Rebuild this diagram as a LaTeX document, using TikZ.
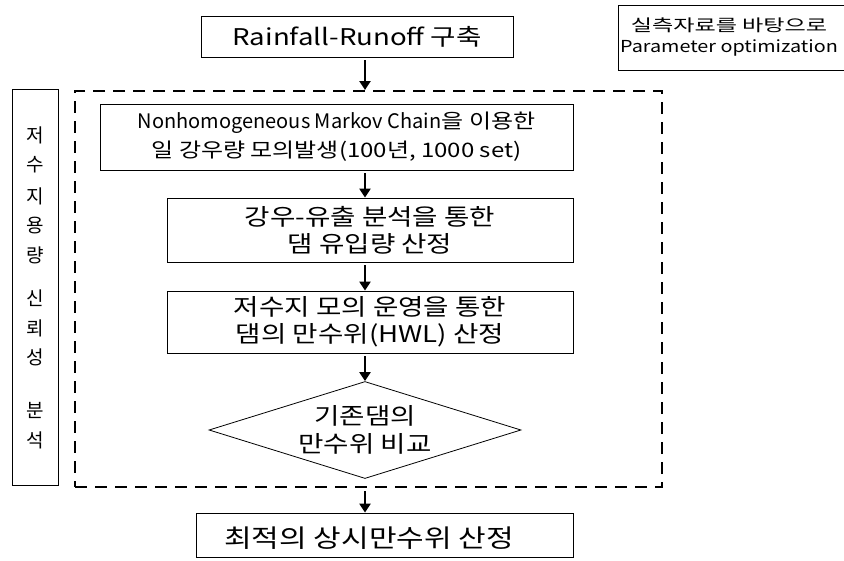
\documentclass[tikz,border=0pt]{standalone}
\usepackage{fontspec}
\setmainfont{Noto Sans CJK KR}
\newfontfamily\breit{Noto Sans CJK KR}[FakeStretch=1.2]
\newfontfamily\breiter{Noto Sans CJK KR}[FakeStretch=1.4]
\usetikzlibrary{arrows.meta,shapes.geometric}

\tikzset{
  kasten/.style={draw, line width=0.8pt, inner sep=0pt, align=center},
  raute/.style={draw, diamond, aspect=3.2, line width=0.8pt, inner sep=0pt, align=center},
  pfeil/.style={-{Triangle[length=9pt,width=11pt]}, line width=2.4pt, shorten <=3pt},
  rahmen/.style={draw, dash pattern=on 12pt off 8pt, line width=2pt}
}

\begin{document}
\begin{tikzpicture}[x=1pt,y=-1pt]
\useasboundingbox (0,0) rectangle (844,560);

%Kasten
\node[kasten, minimum width=312pt, minimum height=41pt, font=\breit\fontsize{23}{28}\selectfont] (oben) at (357,36.5) {Rainfall-Runoff 구축};
\node[kasten, minimum width=473pt, minimum height=66pt, font=\fontsize{20}{29}\selectfont] (markov) at (336.5,137) {Nonhomogeneous Markov Chain{\breit 을 이용한}\\{\breit 일 강우량 모의발생(100년, 1000 set)}};
\node[kasten, minimum width=406pt, minimum height=64pt, font=\breit\fontsize{23}{27}\selectfont] (abfluss) at (370,230) {강우-유출 분석을 통한\\댐 유입량 산정};
\node[kasten, minimum width=406pt, minimum height=62pt, font=\breit\fontsize{23}{27}\selectfont] (hwl) at (370,322) {저수지 모의 운영을 통한\\댐의 만수위(HWL) 산정};
\node[raute, minimum width=312pt, minimum height=97pt, font=\breit\fontsize{23}{28}\selectfont] (vergleich) at (365,430) {기존댐의\\만수위 비교};
\node[kasten, minimum width=377pt, minimum height=44pt] (ergebnis) at (384.5,535) {};

%Rahmen
\node[rahmen, minimum width=587pt, minimum height=396pt] (rahmen) at (368.5,289) {};
\node[kasten, minimum width=46pt, minimum height=396pt] (links) at (35,287) {};
\node[kasten, minimum width=250pt, minimum height=65pt, anchor=north west] (hinweis) at (618,5) {};

%Beschriftung
\node[font=\breit\fontsize{25}{30}\selectfont] (ergebnistext) at (369,538) {최적의 상시만수위 산정};
\node[align=center, font=\fontsize{16.5}{21}\selectfont] (hinweistext) at (729,37) {{\breiter 실측자료를 바탕으로}\\{\breit Parameter optimization}};
\foreach \z/\y [count=\i] in {저/135,수/165,지/196,용/226,량/255,신/298,뢰/328,성/357,분/410,석/440}
  \node[font=\fontsize{19}{19}\selectfont] (z\i) at (35,\y) {\z};

%Pfeile
\coordinate (achse) at (365,0);
\draw[pfeil] (oben.south -| achse) -- (rahmen.north -| achse);
\draw[pfeil] (markov.south -| achse) -- (abfluss.north -| achse);
\draw[pfeil] (abfluss.south -| achse) -- (hwl.north -| achse);
\draw[pfeil] (hwl.south -| achse) -- (vergleich.north);
\draw[pfeil] (rahmen.south -| achse) -- (ergebnis.north -| achse);

\end{tikzpicture}
\end{document}
